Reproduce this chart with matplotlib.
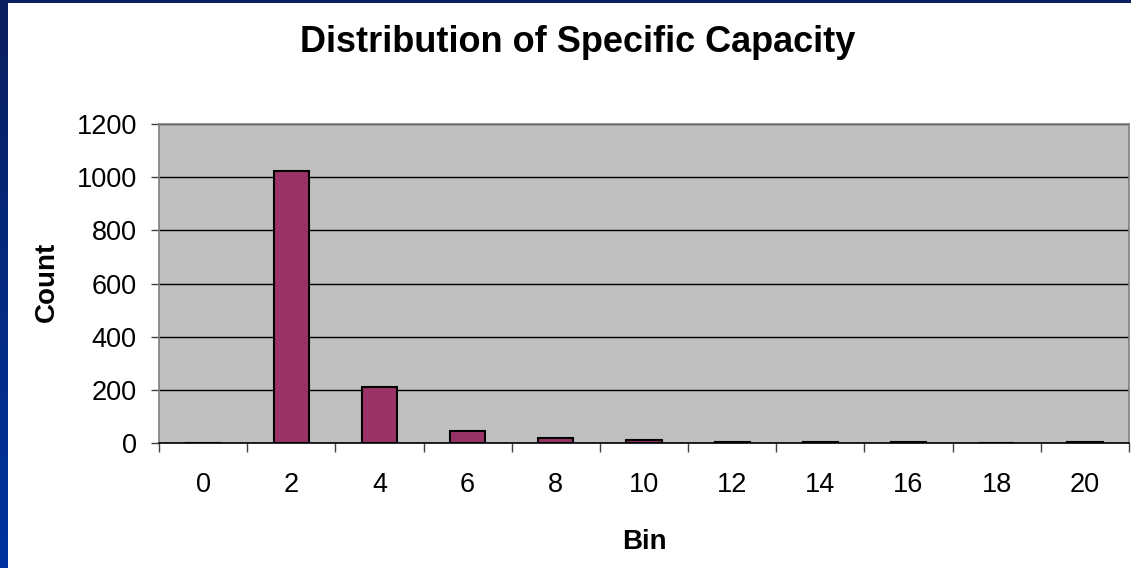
import matplotlib.pyplot as plt
import numpy as np

bins = [0, 2, 4, 6, 8, 10, 12, 14, 16, 18, 20]
counts = [0, 1023, 212, 46, 20, 10, 3, 3, 3, 0, 3]
y_ticks = [0, 200, 400, 600, 800, 1000, 1200]

plt.rcParams["font.family"] = ["Liberation Sans", "DejaVu Sans"]

W, H = 1131, 568
fig = plt.figure(figsize=(W / 100, H / 100), dpi=100)
fig.patch.set_facecolor("white")

# slide frame: blue strip on the left, dark band at the top
grad = np.linspace(0, 1, 256).reshape(-1, 1)
frame_l = fig.add_axes([0, 0, 8 / W, 1])
frame_l.imshow(grad, aspect="auto", cmap=plt.matplotlib.colors.LinearSegmentedColormap.from_list(
    "slide", ["#0b1f5e", "#0033a0"]), extent=[0, 1, 0, 1])
frame_l.axis("off")
frame_t = fig.add_axes([0, 1 - 3 / H, 1, 3 / H])
frame_t.set_facecolor("#0b1f5e")
frame_t.set_xticks([])
frame_t.set_yticks([])
for s in frame_t.spines.values():
    s.set_visible(False)

ax = fig.add_axes([159 / W, 1 - 443 / H, (1129 - 159) / W, (443 - 124) / H])
ax.set_facecolor("#c0c0c0")

x = np.arange(len(bins))
ax.bar(x, counts, width=0.4, color="#993366", edgecolor="black", linewidth=1.5, zorder=3)

ax.set_xlim(-0.5, len(bins) - 0.5)
ax.set_ylim(0, 1200)
ax.set_yticks(y_ticks)
ax.set_yticklabels([str(v) for v in y_ticks])
ax.set_xticks(x)
ax.set_xticklabels([str(b) for b in bins])
ax.set_xticks(np.arange(len(bins) + 1) - 0.5, minor=True)
ax.tick_params(axis="x", which="major", length=0, pad=21, labelsize=19.5)
ax.tick_params(axis="x", which="minor", length=6.5, width=1, color="#404040")
ax.tick_params(axis="y", length=6, width=1, color="#404040", pad=10, labelsize=19.5)

ax.yaxis.grid(True, color="black", linewidth=1, zorder=0)
ax.set_axisbelow(True)
for s in ax.spines.values():
    s.set_color("#808080")
    s.set_linewidth(1.2)
ax.spines["bottom"].set_color("black")

fig.text(644 / W, 1 - 542 / H, "Bin", ha="center", va="center",
         fontsize=20, fontweight="bold")
fig.text(47 / W, 1 - 282 / H, "Count", ha="center", va="center",
         rotation=90, fontsize=20, fontweight="bold")
fig.text(578 / W, 1 - 42 / H, "Distribution of Specific Capacity",
         ha="center", va="center", fontsize=26, fontweight="bold")

fig.savefig("out.png", dpi=100)
